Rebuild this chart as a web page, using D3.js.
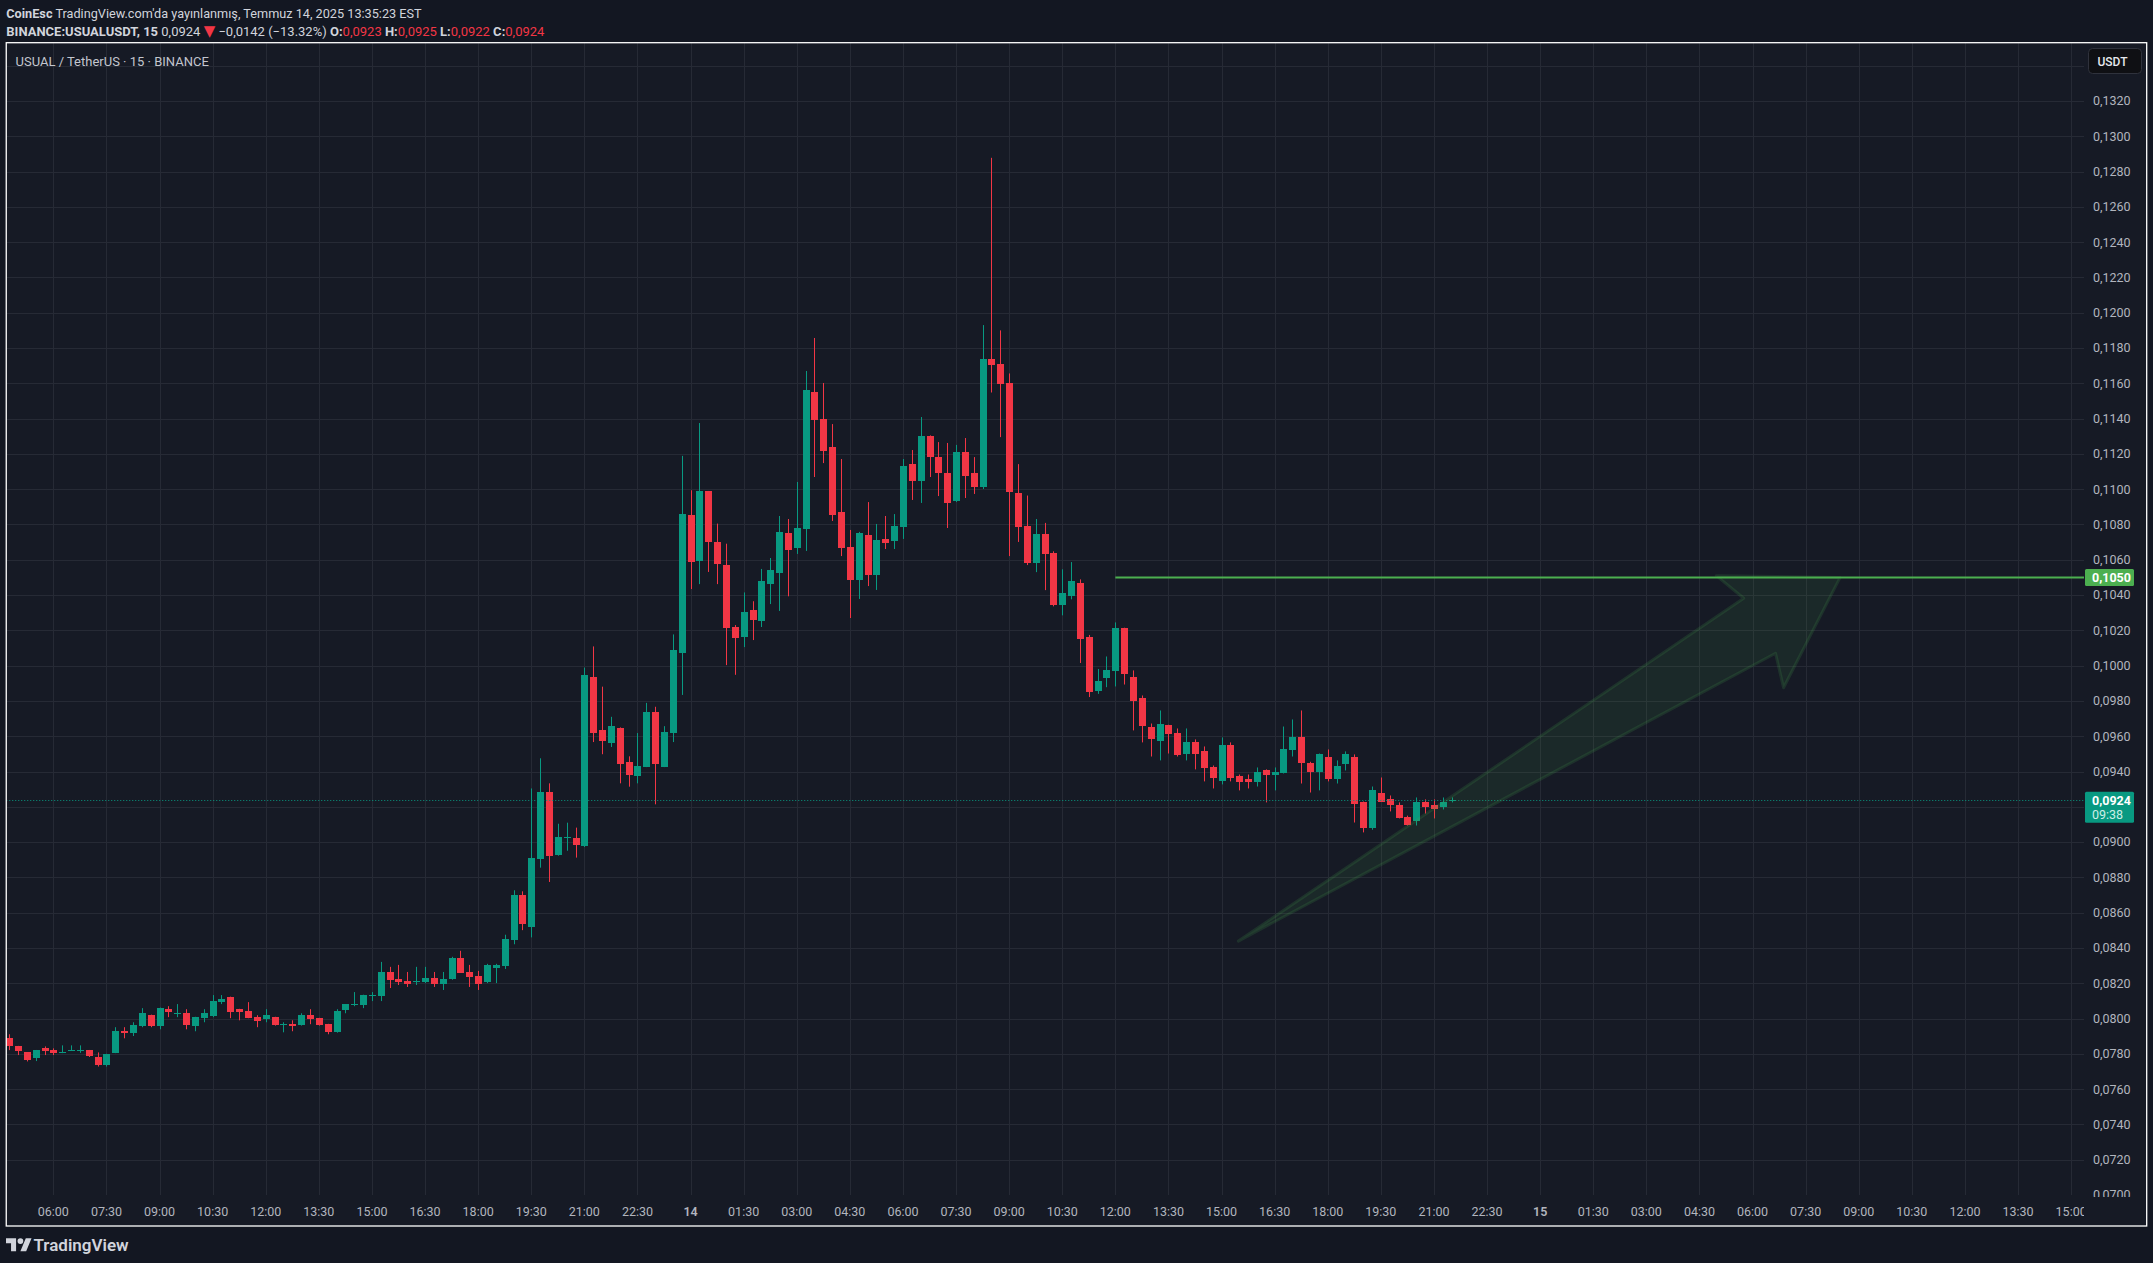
<!DOCTYPE html>
<html><head><meta charset="utf-8">
<script src="https://cdn.jsdelivr.net/npm/d3@7"></script>
<style>
html,body{margin:0;padding:0;background:#131722;}
svg{display:block;font-family:Roboto,"Noto Sans",sans-serif;}
</style>
</head><body>
<svg id="c" width="2153" height="1263"></svg>
<script>
// ---------------- DATA ----------------
const startLabel = "2025-07-13 04:45";   // first bar, 15-minute bars
const opens = [0.07888,0.07842,0.07808,0.07776,0.07831,0.07819,0.07804,0.07816,0.07814,0.07819,
0.07780,0.07734,0.07804,0.07928,0.07916,0.07956,0.08019,0.07956,0.08053,0.08025,
0.08030,0.07956,0.08002,0.08013,0.08093,0.08122,0.08053,0.08042,0.08008,0.07996,
0.08008,0.07964,0.07968,0.07962,0.08019,0.08002,0.07968,0.07922,0.08048,0.08076,
0.08076,0.08127,0.08127,0.08264,0.08224,0.08213,0.08207,0.08207,0.08230,0.08196,
0.08224,0.08344,0.08264,0.08241,0.08207,0.08287,0.08295,0.08444,0.08698,0.08521,
0.08904,0.09282,0.08929,0.09020,0.09025,0.08978,0.09938,0.09634,0.09561,0.09647,
0.09453,0.09377,0.09428,0.09738,0.09428,0.09618,0.10075,0.10856,0.10589,0.10988,
0.10703,0.10570,0.10217,0.10160,0.10315,0.10253,0.10463,0.10525,0.10752,0.10667,
0.10774,0.11551,0.11398,0.11239,0.10871,0.10672,0.10485,0.10740,0.10514,0.10718,
0.10706,0.10786,0.11143,0.11046,0.11301,0.11182,0.11092,0.10933,0.11211,0.11092,
0.11012,0.11737,0.11707,0.11603,0.10980,0.10793,0.10581,0.10746,0.10638,0.10342,
0.10393,0.10466,0.10164,0.09860,0.09927,0.09967,0.10211,0.09933,0.09814,0.09655,
0.09576,0.09661,0.09621,0.09497,0.09565,0.09514,0.09423,0.09349,0.09553,0.09372,
0.09355,0.09338,0.09406,0.09378,0.09389,0.09519,0.09593,0.09451,0.09400,0.09485,
0.09361,0.09440,0.09485,0.09225,0.09077,0.09281,0.09242,0.09213,0.09145,0.09117,
0.09225,0.09213,0.09196,0.09234];
const highs = [0.07911,0.07845,0.07810,0.07822,0.07842,0.07831,0.07848,0.07848,0.07848,0.07822,
0.07808,0.07800,0.07951,0.07951,0.07979,0.08059,0.08022,0.08062,0.08070,0.08082,
0.08053,0.08010,0.08053,0.08133,0.08133,0.08124,0.08055,0.08093,0.08019,0.08053,
0.08010,0.07979,0.07990,0.08030,0.08053,0.08004,0.07970,0.08053,0.08082,0.08150,
0.08135,0.08150,0.08321,0.08293,0.08304,0.08264,0.08293,0.08293,0.08264,0.08264,
0.08350,0.08384,0.08304,0.08270,0.08310,0.08310,0.08475,0.08727,0.08721,0.09304,
0.09475,0.09333,0.09104,0.09110,0.09082,0.09989,0.10109,0.09881,0.09710,0.09650,
0.09486,0.09618,0.09789,0.09767,0.09657,0.10177,0.11189,0.10994,0.11375,0.10990,
0.10805,0.10691,0.10230,0.10415,0.10365,0.10548,0.10610,0.10848,0.10831,0.11041,
0.11670,0.11857,0.11602,0.11369,0.11171,0.10769,0.10758,0.10927,0.10803,0.10848,
0.10859,0.11171,0.11222,0.11409,0.11305,0.11267,0.11262,0.11251,0.11290,0.11182,
0.11930,0.12878,0.11900,0.11656,0.11142,0.10964,0.10831,0.10809,0.10648,0.10546,
0.10587,0.10489,0.10174,0.09981,0.10052,0.10245,0.10215,0.09973,0.09831,0.09672,
0.09746,0.09665,0.09644,0.09644,0.09582,0.09542,0.09434,0.09593,0.09565,0.09383,
0.09383,0.09423,0.09412,0.09423,0.09655,0.09695,0.09746,0.09455,0.09502,0.09525,
0.09463,0.09514,0.09497,0.09230,0.09315,0.09366,0.09264,0.09225,0.09150,0.09253,
0.09242,0.09242,0.09253,0.09253];
const lows = [0.07821,0.07793,0.07757,0.07759,0.07793,0.07793,0.07804,0.07816,0.07806,0.07782,
0.07728,0.07728,0.07804,0.07888,0.07901,0.07951,0.07951,0.07939,0.08008,0.08008,
0.07939,0.07928,0.07979,0.08008,0.08082,0.08002,0.07990,0.08002,0.07951,0.07979,
0.07960,0.07922,0.07928,0.07960,0.07968,0.07960,0.07911,0.07920,0.08030,0.08070,
0.08059,0.08099,0.08099,0.08173,0.08190,0.08179,0.08190,0.08201,0.08179,0.08162,
0.08220,0.08258,0.08179,0.08162,0.08201,0.08201,0.08281,0.08421,0.08501,0.08460,
0.08855,0.08774,0.08923,0.08951,0.08912,0.08972,0.09567,0.09498,0.09539,0.09333,
0.09314,0.09333,0.09425,0.09214,0.09425,0.09567,0.09834,0.10434,0.10462,0.10531,
0.10462,0.10003,0.09948,0.10105,0.10145,0.10219,0.10349,0.10310,0.10393,0.10633,
0.10650,0.11069,0.11148,0.10820,0.10621,0.10270,0.10378,0.10451,0.10429,0.10661,
0.10661,0.10718,0.10939,0.10922,0.11069,0.10961,0.10780,0.10927,0.10950,0.10973,
0.11001,0.11548,0.11295,0.10621,0.10701,0.10570,0.10530,0.10428,0.10336,0.10285,
0.10376,0.10015,0.09822,0.09840,0.09878,0.09882,0.09893,0.09633,0.09565,0.09485,
0.09463,0.09502,0.09485,0.09463,0.09412,0.09344,0.09304,0.09327,0.09344,0.09293,
0.09304,0.09315,0.09225,0.09293,0.09389,0.09485,0.09332,0.09281,0.09293,0.09344,
0.09332,0.09406,0.09111,0.09055,0.09070,0.09230,0.09174,0.09134,0.09094,0.09094,
0.09162,0.09134,0.09185,0.09225];
const closes = [0.07844,0.07814,0.07764,0.07819,0.07816,0.07804,0.07808,0.07819,0.07819,0.07787,
0.07734,0.07797,0.07928,0.07915,0.07962,0.08030,0.07956,0.08059,0.08036,0.08030,
0.07962,0.08008,0.08030,0.08099,0.08110,0.08036,0.08036,0.08002,0.07985,0.08019,
0.07962,0.07968,0.07956,0.08019,0.07996,0.07962,0.07922,0.08042,0.08082,0.08082,
0.08133,0.08133,0.08264,0.08218,0.08207,0.08196,0.08213,0.08230,0.08196,0.08224,
0.08344,0.08258,0.08236,0.08196,0.08304,0.08304,0.08450,0.08698,0.08535,0.08910,
0.09282,0.08917,0.09029,0.09027,0.08986,0.09948,0.09618,0.09571,0.09657,0.09441,
0.09377,0.09434,0.09738,0.09441,0.09624,0.10091,0.10862,0.10589,0.10988,0.10697,
0.10576,0.10211,0.10154,0.10303,0.10257,0.10480,0.10542,0.10757,0.10655,0.10780,
0.11562,0.11392,0.11216,0.10854,0.10667,0.10485,0.10752,0.10514,0.10712,0.10695,
0.10791,0.11131,0.11046,0.11301,0.11182,0.11092,0.10922,0.11211,0.11075,0.11012,
0.11737,0.11702,0.11592,0.10986,0.10787,0.10581,0.10746,0.10632,0.10342,0.10409,
0.10478,0.10146,0.09850,0.09915,0.09973,0.10211,0.09950,0.09797,0.09655,0.09587,
0.09672,0.09610,0.09497,0.09565,0.09497,0.09417,0.09361,0.09553,0.09366,0.09338,
0.09338,0.09395,0.09378,0.09395,0.09525,0.09593,0.09446,0.09400,0.09502,0.09361,
0.09434,0.09497,0.09219,0.09077,0.09293,0.09230,0.09208,0.09140,0.09100,0.09225,
0.09196,0.09191,0.09225,0.09240];

const xTickLabels = ["06:00","07:30","09:00","10:30","12:00","13:30","15:00","16:30","18:00","19:30","21:00","22:30",
"14","01:30","03:00","04:30","06:00","07:30","09:00","10:30","12:00","13:30","15:00","16:30","18:00","19:30","21:00","22:30",
"15","01:30","03:00","04:30","06:00","07:30","09:00","10:30","12:00","13:30","15:00"];
const xTickBars = [5,11,17,23,29,35,41,47,53,59,65,71,77,83,89,95,101,107,113,119,125,131,137,143,149,155,161,167,173,179,185,191,197,203,209,215,221,227,233];
// grid levels; the 0.092 and 0.134 labels are hidden behind the price tag / currency button
const yTicks = [0.070,0.072,0.074,0.076,0.078,0.080,0.082,0.084,0.086,0.088,0.090,0.092,0.094,0.096,0.098,0.100,
0.102,0.104,0.106,0.108,0.110,0.112,0.114,0.116,0.118,0.120,0.122,0.124,0.126,0.128,0.130,0.132,0.134];
const yTickLabels = ["0,0700","0,0720","0,0740","0,0760","0,0780","0,0800","0,0820","0,0840","0,0860","0,0880","0,0900","","0,0940","0,0960","0,0980","0,1000",
"0,1020","0,1040","0,1060","0,1080","0,1100","0,1120","0,1140","0,1160","0,1180","0,1200","0,1220","0,1240","0,1260","0,1280","0,1300","0,1320",""];

const targetLevel = 0.1050, targetStartBar = 125;
const lastPrice = 0.0924, countdown = "09:38";
// arrow drawing, in [bar index, price]
const arrowBars   = [138.9, 196.0, 192.9, 206.9, 200.5, 199.6];
const arrowPrices = [0.08439, 0.10382, 0.10510, 0.10500, 0.09875, 0.10070];

// ---------------- LAYOUT ----------------
const W = 2153, H = 1263;
const paneL = 6.25, paneT = 42.7, paneR = 2146.7, paneB = 1226;
const plotR = 2084, plotB = 1195;
const UP = "#089981", DOWN = "#f23645", GRID = "#262a35", TXT = "#b2b5be";

const svg = d3.select("#c");
svg.append("rect").attr("width", W).attr("height", H).attr("fill", "#131722");
svg.append("rect").attr("x", paneL).attr("y", paneT).attr("width", paneR - paneL).attr("height", paneB - paneT)
  .attr("fill", "#161a25");

const x = d3.scaleLinear().domain([0, 1]).range([9.1, 9.1 + 8.85]);
const y = d3.scaleLinear().domain([0.070, 0.132]).range([plotB, 101]);

const defs = svg.append("defs");
defs.append("clipPath").attr("id", "plotClip").append("rect")
  .attr("x", paneL).attr("y", paneT).attr("width", plotR - paneL).attr("height", plotB - paneT);

// grid
const grid = svg.append("g").attr("clip-path", "url(#plotClip)");
grid.selectAll("line.h").data(yTicks).join("line")
  .attr("x1", paneL).attr("x2", plotR)
  .attr("y1", d => Math.round(y(d)) + 0.5).attr("y2", d => Math.round(y(d)) + 0.5)
  .attr("stroke", GRID).attr("stroke-width", 1);
grid.selectAll("line.v").data(xTickBars).join("line")
  .attr("x1", d => Math.round(x(d)) + 0.5).attr("x2", d => Math.round(x(d)) + 0.5)
  .attr("y1", paneT).attr("y2", plotB + 1)
  .attr("stroke", GRID).attr("stroke-width", 1);

// candles
const bars = d3.range(opens.length).map(i => ({i, o: opens[i], h: highs[i], l: lows[i], c: closes[i]}));
const cg = svg.append("g").attr("clip-path", "url(#plotClip)");
cg.selectAll("line.w").data(bars).join("line")
  .attr("x1", d => Math.round(x(d.i)) + 0.5).attr("x2", d => Math.round(x(d.i)) + 0.5)
  .attr("y1", d => y(d.h)).attr("y2", d => y(d.l))
  .attr("stroke", d => d.c >= d.o ? UP : DOWN).attr("stroke-width", 1);
cg.selectAll("rect.b").data(bars).join("rect")
  .attr("x", d => Math.round(x(d.i)) - 3).attr("width", 7)
  .attr("y", d => Math.round(y(Math.max(d.o, d.c))))
  .attr("height", d => Math.max(1, Math.round(Math.abs(y(d.o) - y(d.c)))))
  .attr("fill", d => d.c >= d.o ? UP : DOWN)
  .attr("shape-rendering", "crispEdges");

// last price dotted line
cg.append("line").attr("x1", paneL).attr("x2", plotR)
  .attr("y1", Math.round(y(lastPrice)) + 0.5).attr("y2", Math.round(y(lastPrice)) + 0.5)
  .attr("stroke", UP).attr("stroke-width", 1).attr("stroke-dasharray", "1,2");

// target horizontal line
cg.append("line").attr("x1", x(targetStartBar)).attr("x2", plotR)
  .attr("y1", y(targetLevel)).attr("y2", y(targetLevel))
  .attr("stroke", "#4caf50").attr("stroke-width", 2);

// arrow drawing
const arrowPts = arrowBars.map((b, k) => [x(b), y(arrowPrices[k])]);
cg.append("path").attr("d", d3.line()(arrowPts) + "Z")
  .attr("fill", "rgba(76,175,80,0.10)").attr("stroke", "rgba(76,175,80,0.16)")
  .attr("stroke-width", 3).attr("stroke-linejoin", "round");

// price axis labels
const fmt = v => d3.format(".4f")(v).replace(".", ",");
svg.append("g").selectAll("text").data(yTicks.filter((d, k) => yTickLabels[k] !== "")).join("text")
  .attr("x", 2093).attr("y", d => y(d)).attr("dy", "0.35em")
  .attr("fill", TXT).attr("font-size", 12.5).text(d => yTickLabels[yTicks.indexOf(d)]);

// time axis labels
svg.append("g").selectAll("text").data(xTickBars).join("text")
  .attr("x", d => x(d)).attr("y", 1212).attr("dy", "0.35em").attr("text-anchor", "middle")
  .attr("fill", TXT).attr("font-size", 12.5)
  .attr("font-weight", (d, k) => xTickLabels[k].length === 2 ? 600 : 400)
  .text((d, k) => xTickLabels[k]);
// cover overflow of the last time label under price axis
svg.append("rect").attr("x", plotR).attr("y", plotB + 2).attr("width", paneR - plotR - 1).attr("height", paneB - plotB - 3)
  .attr("fill", "#161a25");

// target label
svg.append("rect").attr("x", 2085).attr("y", y(targetLevel) - 8.5).attr("width", 49).attr("height", 17)
  .attr("rx", 1.5).attr("fill", "#4caf50");
svg.append("text").attr("x", 2092).attr("y", y(targetLevel)).attr("dy", "0.36em")
  .attr("fill", "#ffffff").attr("font-size", 12.5).attr("font-weight", 700).text(fmt(targetLevel));

// last price label
svg.append("rect").attr("x", 2085).attr("y", y(lastPrice) - 8).attr("width", 49).attr("height", 31)
  .attr("rx", 1.5).attr("fill", UP);
svg.append("text").attr("x", 2092).attr("y", y(lastPrice) + 0.5).attr("dy", "0.36em")
  .attr("fill", "#ffffff").attr("font-size", 12.5).attr("font-weight", 700).text(fmt(lastPrice));
svg.append("text").attr("x", 2092).attr("y", y(lastPrice) + 14.5).attr("dy", "0.36em")
  .attr("fill", "#cdeee7").attr("font-size", 12.5).text(countdown);

// currency button
svg.append("rect").attr("x", 2088.5).attr("y", 48.5).attr("width", 53).attr("height", 25).attr("rx", 4)
  .attr("fill", "#0f1014").attr("stroke", "#2f323c").attr("stroke-width", 1);
svg.append("text").attr("x", 2097.5).attr("y", 61.5).attr("dy", "0.35em")
  .attr("fill", "#e6e8ee").attr("font-size", 12).attr("font-weight", 500).text("USDT");

// pane border
svg.append("rect").attr("x", paneL).attr("y", paneT).attr("width", paneR - paneL).attr("height", paneB - paneT)
  .attr("fill", "none").attr("stroke", "#ffffff").attr("stroke-width", 1.3);

// legend in pane
svg.append("text").attr("x", 15.5).attr("y", 61).attr("dy", "0.35em")
  .attr("fill", "#c3c6ce").attr("font-size", 13).text("USUAL / TetherUS · 15 · BINANCE");

// header
const h1 = svg.append("text").attr("x", 6.3).attr("y", 13.5).attr("dy", "0.35em")
  .attr("fill", "#d1d4dc").attr("font-size", 12.7);
h1.append("tspan").attr("font-weight", 700).text("CoinEsc");
h1.append("tspan").text(" TradingView.com'da yayınlanmış, Temmuz 14, 2025 13:35:23 EST");

const h2 = svg.append("text").attr("x", 6.3).attr("y", 31).attr("dy", "0.35em")
  .attr("fill", "#d1d4dc").attr("font-size", 13);
h2.append("tspan").attr("font-weight", 700).text("BINANCE:USUALUSDT, 15");
h2.append("tspan").text(" 0,0924 ");
h2.append("tspan").attr("fill", DOWN).attr("font-size", 15).attr("font-family", "DejaVu Sans").text("▼");
h2.append("tspan").text(" −0,0142 (−13.32%) ");
[["O:", "0,0923"], ["H:", "0,0925"], ["L:", "0,0922"], ["C:", "0,0924"]].forEach(([k, v], j) => {
  h2.append("tspan").attr("font-weight", 700).text((j ? " " : "") + k);
  h2.append("tspan").attr("fill", DOWN).text(v);
});

// footer logo
const logo = svg.append("g").attr("transform", "translate(6,1235.3) scale(0.72)").attr("fill", "#d1d4dc");
logo.append("path").attr("d", "M14 22H7V11H0V4h14v18zM28 22h-8l7.5-18h8L28 22z");
logo.append("circle").attr("cx", 20).attr("cy", 8).attr("r", 4);
svg.append("text").attr("x", 33.5).attr("y", 1245).attr("dy", "0.35em")
  .attr("fill", "#d1d4dc").attr("font-size", 17).attr("font-weight", 600).text("TradingView");
</script>
</body></html>
